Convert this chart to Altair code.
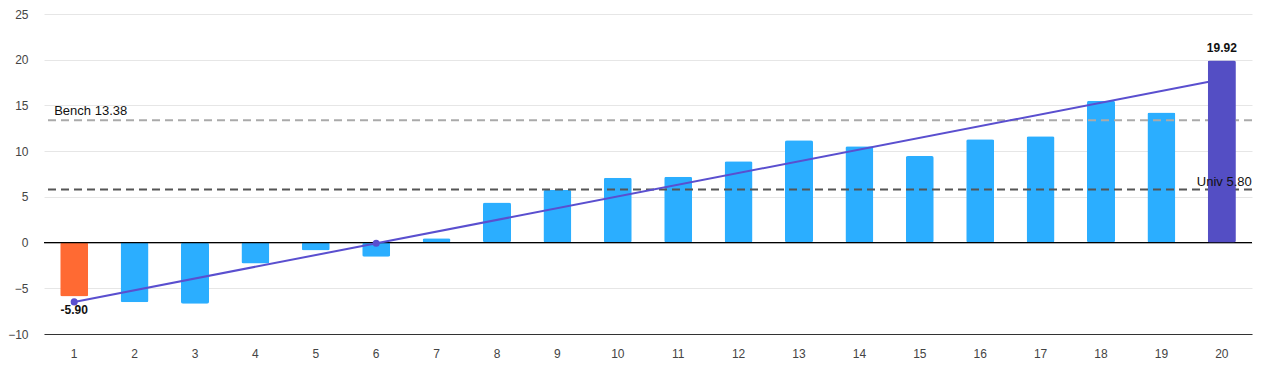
import altair as alt
import numpy as np
import pandas as pd

ranks = list(range(1, 21))
values = [-5.90, -6.52, -6.70, -2.30, -0.86, -1.55, 0.48, 4.37, 5.75, 7.08,
          7.19, 8.89, 11.19, 10.54, 9.46, 11.30, 11.62, 15.52, 14.22, 19.92]
bench_value = 13.38
univ_value = 5.80
y_ticks = [-10, -5, 0, 5, 10, 15, 20, 25]
dot_ranks = [1, 6]

df = pd.DataFrame({"rank": ranks, "value": values})
slope, intercept = np.polyfit(ranks, values, 1)
fit_line = pd.DataFrame({"rank": [ranks[0], ranks[-1]],
                         "fit": [slope * ranks[0] + intercept, slope * ranks[-1] + intercept]})
fit_dots = pd.DataFrame({"rank": dot_ranks, "fit": [slope * r + intercept for r in dot_ranks]})

FONT = "Liberation Sans"
x_enc = alt.X("rank:O", axis=alt.Axis(labelAngle=0, ticks=False, labelPadding=14, title=None,
                                        domainColor="#333333", labelColor="#444444", labelFontSize=12,
                                        labelFont=FONT, grid=False))
y_scale = alt.Scale(domain=[-10, 25], nice=False)
y_axis = alt.Axis(values=y_ticks, title=None, ticks=False, domain=False, labelPadding=16,
                  gridColor="#e6e6e6", labelColor="#444444", labelFontSize=12, labelFont=FONT)

color_enc = alt.Color("kind:N", scale=alt.Scale(domain=["first", "mid", "last"],
                                                range=["#FF6A33", "#2BAEFF", "#544EC4"]), legend=None)
bar_base = alt.Chart(df).transform_calculate(
    kind="datum.rank == 1 ? 'first' : (datum.rank == 20 ? 'last' : 'mid')"
)
bars = bar_base.mark_bar(size=28, cornerRadius=2).encode(
    x=x_enc, y=alt.Y("value:Q", scale=y_scale, axis=y_axis), color=color_enc)
top_bar = bar_base.transform_filter("datum.kind == 'last'").mark_bar(size=28, cornerRadius=2).encode(
    x="rank:O", y="value:Q", color=color_enc)

zero = alt.Chart(pd.DataFrame({"y": [0]})).mark_rule(color="#000000", strokeWidth=1.2).encode(y="y:Q")

bench_line = alt.Chart(pd.DataFrame({"y": [bench_value]})).mark_rule(
    strokeWidth=2, strokeDash=[8, 5], color="#aaaaaa").encode(y="y:Q")
univ_line = alt.Chart(pd.DataFrame({"y": [univ_value]})).mark_rule(
    strokeWidth=2, strokeDash=[8, 5], color="#555555").encode(y="y:Q")

bench_label = alt.Chart(pd.DataFrame({"rank": [1], "y": [bench_value],
                                      "t": [f"Bench {bench_value:.2f}"]})).mark_text(
    align="left", baseline="bottom", dx=-20, dy=-2, fontSize=13, font=FONT, color="#111111"
).encode(x="rank:O", y="y:Q", text="t:N")
univ_label = alt.Chart(pd.DataFrame({"rank": [20], "y": [univ_value],
                                     "t": [f"Univ {univ_value:.2f}"]})).mark_text(
    align="left", baseline="bottom", dx=-25, dy=-1, fontSize=13, font=FONT, color="#111111"
).encode(x="rank:O", y="y:Q", text="t:N")

trend = alt.Chart(fit_line).mark_line(color="#5A4FCF", strokeWidth=2).encode(x="rank:O", y="fit:Q")
dots = alt.Chart(fit_dots).mark_circle(color="#5A4FCF", size=50, opacity=1).encode(x="rank:O", y="fit:Q")

ends = pd.DataFrame({"rank": [ranks[0], ranks[-1]], "value": [values[0], values[-1]]})
ends["t"] = ends["value"].map(lambda v: f"{v:.2f}")
neg_label = alt.Chart(ends).transform_filter("datum.value < 0").mark_text(
    fontSize=12, fontWeight="bold", font=FONT, color="#111111", baseline="top", dy=8
).encode(x="rank:O", y="value:Q", text="t:N")
pos_label = alt.Chart(ends).transform_filter("datum.value >= 0").mark_text(
    fontSize=12, fontWeight="bold", font=FONT, color="#111111", baseline="bottom", dy=-5
).encode(x="rank:O", y="value:Q", text="t:N")

chart = alt.layer(bars, zero, bench_line, univ_line, trend, dots, top_bar, bench_label, univ_label,
                  neg_label, pos_label).properties(
    width=1208, height=320,
    autosize=alt.AutoSizeParams(type="none"),
    padding={"left": 36, "top": 6, "right": 2, "bottom": 35},
).configure_view(stroke=None).configure_scale(bandPaddingInner=0.5, bandPaddingOuter=0.25)

chart.save("out.html", embed_options={"renderer": "svg", "actions": False})
